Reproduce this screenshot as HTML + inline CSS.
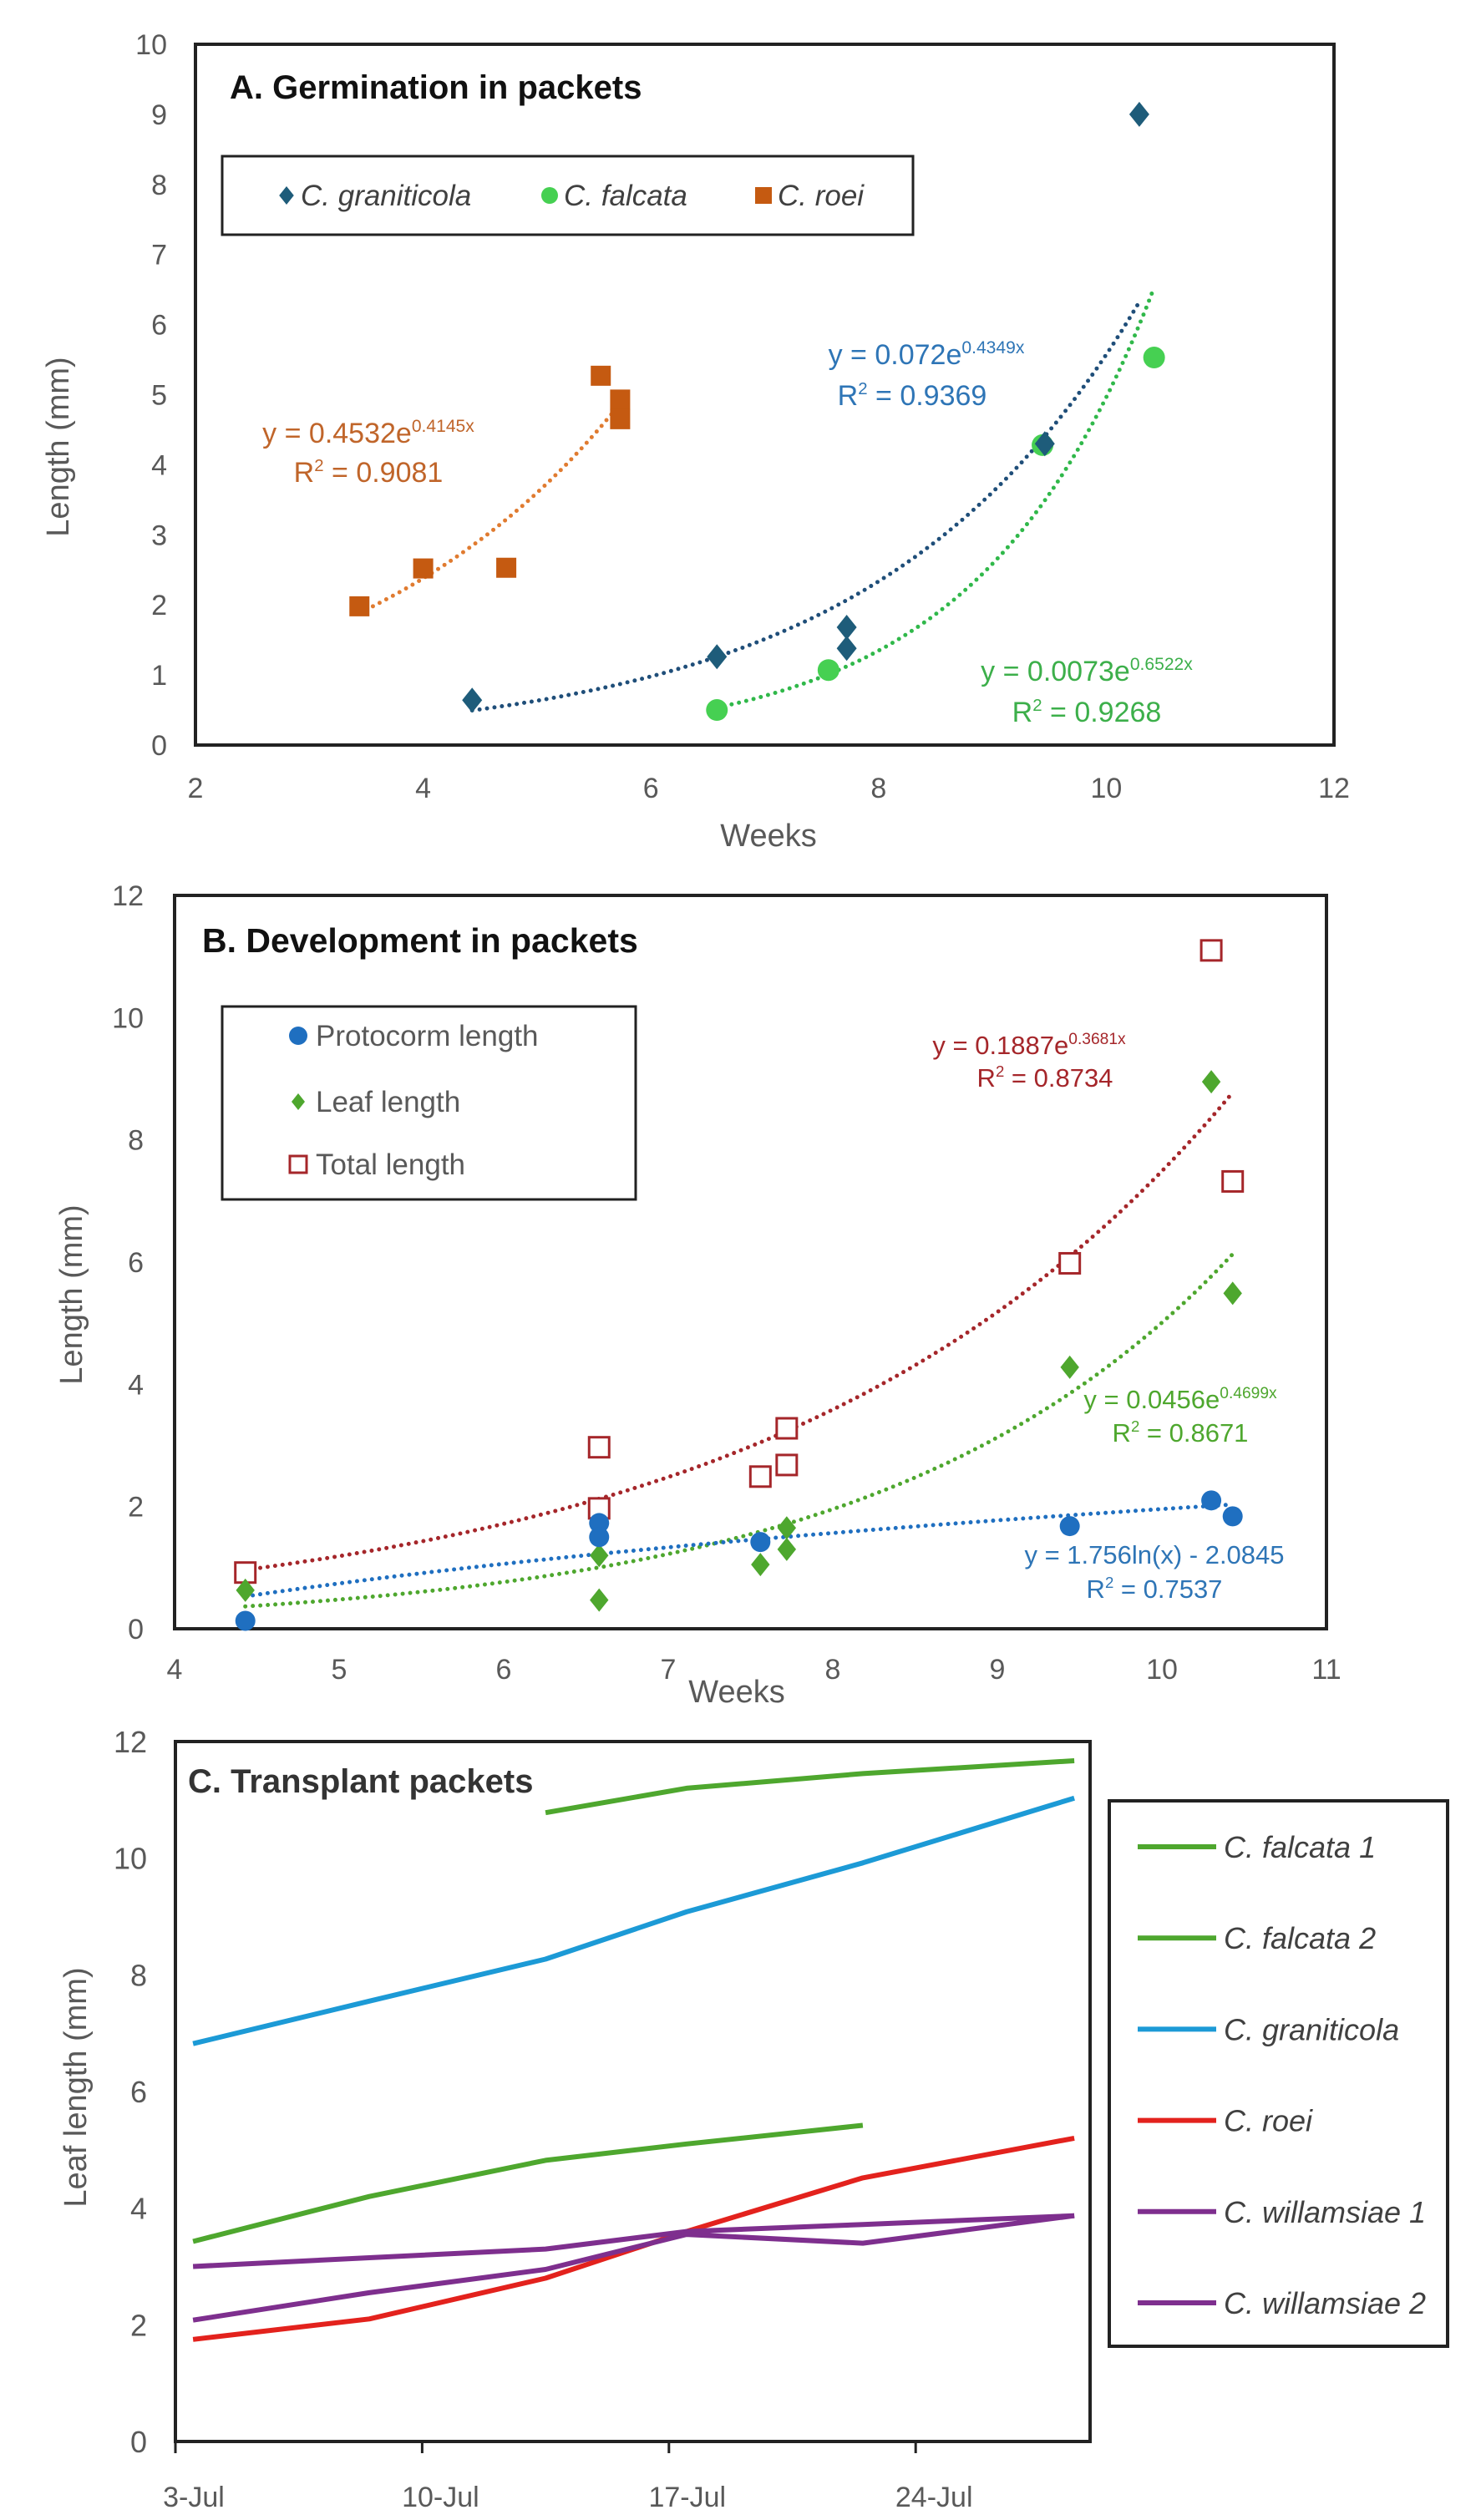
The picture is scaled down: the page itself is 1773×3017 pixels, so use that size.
<!DOCTYPE html>
<html><head><meta charset="utf-8"><style>
html,body{margin:0;padding:0;background:#fff}
svg{display:block;font-family:"Liberation Sans",sans-serif}
</style></head><body>
<svg id="s" width="1773" height="3017" viewBox="0 0 1773 3017" xmlns="http://www.w3.org/2000/svg"></svg>
<script>
// ---------- Panel A data ----------
const aGranX=[4.43,6.58,7.72,7.72,9.46,10.29];
const aGranY=[0.64,1.26,1.68,1.38,4.3,9.0];
const aFalcX=[6.58,7.56,9.44,10.42];
const aFalcY=[0.5,1.07,4.28,5.53];
const aRoeiX=[3.44,4.0,4.73,5.56,5.73,5.73];
const aRoeiY=[1.98,2.52,2.53,5.27,4.93,4.65];
const aXTicks=[2,4,6,8,10,12];
const aYTicks=[0,1,2,3,4,5,6,7,8,9,10];
// ---------- Panel B data ----------
const bProtoX=[4.43,6.58,6.58,7.56,9.44,10.3,10.43];
const bProtoY=[0.13,1.73,1.5,1.42,1.68,2.1,1.84];
const bLeafX=[4.43,6.58,6.58,7.56,7.72,7.72,9.44,10.3,10.43];
const bLeafY=[0.63,1.2,0.47,1.05,1.65,1.3,4.28,8.95,5.49];
const bTotX=[4.43,6.58,6.58,7.56,7.72,7.72,9.44,10.3,10.43];
const bTotY=[0.92,2.97,1.97,2.49,3.28,2.68,5.98,11.1,7.32];
const bXTicks=[4,5,6,7,8,9,10,11];
const bYTicks=[0,2,4,6,8,10,12];
// ---------- Panel C data ----------
const cDays=[3,8,13,17,22,28];
const cFalc1=[null,null,10.78,11.2,11.45,11.67];
const cFalc2=[3.43,4.2,4.82,5.1,5.42,null];
const cGran=[6.82,7.55,8.27,9.08,9.92,11.03];
const cRoei=[1.75,2.1,2.8,3.6,4.52,5.2];
const cWill1=[3.0,3.15,3.3,3.6,3.72,3.87];
const cWill2=[2.08,2.55,2.95,3.55,3.4,3.87];
const cXTickDays=[3,10,17,24];
const cXTickLabels=["3-Jul","10-Jul","17-Jul","24-Jul"];
const cYTicks=[0,2,4,6,8,10,12];

const NS="http://www.w3.org/2000/svg";
const svg=document.getElementById('s');
function el(tag,attrs,parent,text){const e=document.createElementNS(NS,tag);for(const k in attrs)e.setAttribute(k,attrs[k]);if(text!==undefined)e.textContent=text;(parent||svg).appendChild(e);return e;}
function grp(name){const g=el('g',{});return g;}

function marker(g,type,cx,cy,size,color){
  let m;
  if(type==='diamond'){const h=size/2;m=el('polygon',{points:`${cx},${cy-h} ${cx+h*0.8},${cy} ${cx},${cy+h} ${cx-h*0.8},${cy}`,fill:color},g);}
  else if(type==='circle'){m=el('circle',{cx:cx,cy:cy,r:size/2,fill:color},g);}
  else if(type==='square'){m=el('rect',{x:cx-size/2,y:cy-size/2,width:size,height:size,fill:color},g);}
  else {m=el('rect',{x:cx-size/2,y:cy-size/2,width:size,height:size,fill:'#fff',stroke:color,'stroke-width':3},g);}
  return m;
}
function trend(g,fn,x0,x1,sx,sy,color){
  let d='';const n=80;
  for(let i=0;i<=n;i++){const x=x0+(x1-x0)*i/n;d+=(i?'L':'M')+sx(x).toFixed(1)+','+sy(fn(x)).toFixed(1);}
  return el('path',{d:d,fill:'none',stroke:color,'stroke-width':5,'stroke-dasharray':'0 9','stroke-linecap':'round'},g);
}
function eq(g,x,y,main,sup,color,fs,name){
  const t=el('text',{x:x,y:y,fill:color,'font-size':fs,'text-anchor':'middle'},g);
  
  el('tspan',{},t,main);
  if(sup){el('tspan',{'font-size':fs*0.62,dy:-fs*0.38},t,sup);}
  return t;
}
function r2(g,x,y,val,color,fs,name){
  const t=el('text',{x:x,y:y,fill:color,'font-size':fs,'text-anchor':'middle'},g);
  
  el('tspan',{},t,'R');el('tspan',{'font-size':fs*0.6,dy:-fs*0.38},t,'2');el('tspan',{dy:fs*0.38},t,' = '+val);
  return t;
}

// ================= Panel A =================
(function(){
  const L=234,R=1597,T=53,B=892;
  const sx=x=>L+(x-2)/10*(R-L), sy=y=>B-y/10*(B-T);
  const g=grp('panel-a-germination');
  const box=el('rect',{x:L,y:T,width:R-L,height:B-T,fill:'none',stroke:'#222','stroke-width':4},g);
  
  aYTicks.forEach(v=>{const t=el('text',{x:200,y:sy(v)+12,'font-size':34,fill:'#595959','text-anchor':'end'},g,String(v));});
  aXTicks.forEach(v=>{const t=el('text',{x:sx(v),y:955,'font-size':34,fill:'#595959','text-anchor':'middle'},g,String(v));});
  const yt=el('text',{x:0,y:0,'font-size':38,fill:'#595959','text-anchor':'middle',transform:'translate(82,535) rotate(-90)'},g,'Length (mm)');
  
  const xt=el('text',{x:920,y:1013,'font-size':38,fill:'#595959','text-anchor':'middle'},g,'Weeks');
  
  const ti=el('text',{x:275,y:118,'font-size':40,'font-weight':'bold',fill:'#111'},g,'A. Germination in packets');
  
  const tr1=trend(g,x=>0.4532*Math.exp(0.4145*x),3.44,5.73,sx,sy,'#E07B30');
  const tr2=trend(g,x=>0.072*Math.exp(0.4349*x),4.43,10.29,sx,sy,'#1F4E79');
  const tr3=trend(g,x=>0.0073*Math.exp(0.6522*x),6.58,10.42,sx,sy,'#30B84A');
  aRoeiX.forEach((x,i)=>{const m=marker(g,'square',sx(x),sy(aRoeiY[i]),24,'#C55A11');});
  aFalcX.forEach((x,i)=>{const m=marker(g,'circle',sx(x),sy(aFalcY[i]),26,'#46D052');});
  aGranX.forEach((x,i)=>{const m=marker(g,'diamond',sx(x),sy(aGranY[i]),30,'#1E5C7A');});
  eq(g,441,530,'y = 0.4532e','0.4145x','#C0652A',34,'equation-roei');
  r2(g,441,577,'0.9081','#C0652A',34,'r2-roei');
  eq(g,1109,436,'y = 0.072e','0.4349x','#2E75B6',34,'equation-graniticola');
  r2(g,1092,485,'0.9369','#2E75B6',34,'r2-graniticola');
  eq(g,1301,815,'y = 0.0073e','0.6522x','#3CAF4A',34,'equation-falcata');
  r2(g,1301,864,'0.9268','#3CAF4A',34,'r2-falcata');
  const lg=el('g',{},g);
  el('rect',{x:266,y:187,width:827,height:94,fill:'#fff',stroke:'#222','stroke-width':3},lg);
  const ents=[['diamond','#1E5C7A',343,'C. graniticola'],['circle','#46D052',658,'C. falcata'],['square','#C55A11',914,'C. roei']];
  ents.forEach(e=>{const eg=el('g',{},lg);
    marker(eg,e[0],e[2],234,e[0]==='diamond'?22:20,e[1]);
    el('text',{x:e[2]+17,y:246,'font-size':35,'font-style':'italic',fill:'#404040'},eg,e[3]);});
})();

// ================= Panel B =================
(function(){
  const L=209,R=1588,T=1072,B=1950;
  const sx=x=>L+(x-4)/7*(R-L), sy=y=>B-y/12*(B-T);
  const g=grp('panel-b-development');
  const box=el('rect',{x:L,y:T,width:R-L,height:B-T,fill:'none',stroke:'#222','stroke-width':4},g);
  
  bYTicks.forEach(v=>{const t=el('text',{x:172,y:sy(v)+12,'font-size':34,fill:'#595959','text-anchor':'end'},g,String(v));});
  bXTicks.forEach(v=>{const t=el('text',{x:sx(v),y:2010,'font-size':34,fill:'#595959','text-anchor':'middle'},g,String(v));});
  const yt=el('text',{x:0,y:0,'font-size':38,fill:'#595959','text-anchor':'middle',transform:'translate(98,1550) rotate(-90)'},g,'Length (mm)');
  
  const xt=el('text',{x:882,y:2038,'font-size':38,fill:'#595959','text-anchor':'middle'},g,'Weeks');
  
  const ti=el('text',{x:242,y:1140,'font-size':41,'font-weight':'bold',fill:'#111'},g,'B. Development in packets');
  
  const t1=trend(g,x=>0.1887*Math.exp(0.3681*x),4.43,10.43,sx,sy,'#A5262A');
  const t2=trend(g,x=>0.0456*Math.exp(0.4699*x),4.43,10.43,sx,sy,'#4EA72E');
  const t3=trend(g,x=>1.756*Math.log(x)-2.0845,4.43,10.43,sx,sy,'#1F6FC0');
  bTotX.forEach((x,i)=>{const m=marker(g,'open',sx(x),sy(bTotY[i]),24,'#A5262A');});
  bLeafX.forEach((x,i)=>{const m=marker(g,'diamond',sx(x),sy(bLeafY[i]),28,'#4EA72E');});
  bProtoX.forEach((x,i)=>{const m=marker(g,'circle',sx(x),sy(bProtoY[i]),24,'#1F6FC0');});
  eq(g,1232,1262,'y = 0.1887e','0.3681x','#A5262A',31,'equation-total');
  r2(g,1251,1301,'0.8734','#A5262A',31,'r2-total');
  eq(g,1413,1686,'y = 0.0456e','0.4699x','#4EA72E',31,'equation-leaf');
  r2(g,1413,1726,'0.8671','#4EA72E',31,'r2-leaf');
  eq(g,1382,1872,'y = 1.756ln(x) - 2.0845','','#2E75B6',31,'equation-protocorm');
  r2(g,1382,1913,'0.7537','#2E75B6',31,'r2-protocorm');
  const lg=el('g',{},g);
  el('rect',{x:266,y:1205,width:495,height:231,fill:'#fff',stroke:'#222','stroke-width':3},lg);
  [['circle','#1F6FC0',1240,'Protocorm length'],['diamond','#4EA72E',1319,'Leaf length'],['open','#A5262A',1394,'Total length']].forEach(e=>{
    const eg=el('g',{},lg);
    marker(eg,e[0],357,e[2],e[0]==='diamond'?20:e[0]==='open'?20:22,e[1]);
    el('text',{x:378,y:e[2]+12,'font-size':35,fill:'#595959'},eg,e[3]);});
})();

// ================= Panel C =================
(function(){
  const L=210,R=1305,T=2085,B=2923;
  const dayW=42.2;
  const sx=d=>L+(d-3+0.5)*dayW, sxTick=d=>L+(d-3)*dayW, sy=y=>B-y/12*(B-T);
  const g=grp('panel-c-transplant');
  const box=el('rect',{x:L,y:T,width:R-L,height:B-T,fill:'none',stroke:'#222','stroke-width':4},g);
  
  cXTickDays.forEach((d,i)=>{
    el('line',{x1:sxTick(d),y1:B,x2:sxTick(d),y2:B+14,stroke:'#222','stroke-width':3},g);
    const t=el('text',{x:sxTick(d)+22,y:3001,'font-size':34,fill:'#595959','text-anchor':'middle'},g,cXTickLabels[i]);
    });
  cYTicks.forEach(v=>{const t=el('text',{x:176,y:sy(v)+13,'font-size':36,fill:'#595959','text-anchor':'end'},g,String(v));});
  const yt=el('text',{x:0,y:0,'font-size':38,fill:'#595959','text-anchor':'middle',transform:'translate(103,2499) rotate(-90)'},g,'Leaf length (mm)');
  
  const ti=el('text',{x:225,y:2146,'font-size':40,'font-weight':'bold',fill:'#333'},g,'C. Transplant packets');
  
  const series=[[cFalc1,'#4EA72E','line-falcata-1','C. falcata 1'],[cFalc2,'#4EA72E','line-falcata-2','C. falcata 2'],[cGran,'#1C9AD6','line-graniticola','C. graniticola'],[cRoei,'#E3221D','line-roei','C. roei'],[cWill1,'#7E2F8E','line-willamsiae-1','C. willamsiae 1'],[cWill2,'#7E2F8E','line-willamsiae-2','C. willamsiae 2']];
  series.forEach(s=>{
    let d='',first=true;
    cDays.forEach((day,i)=>{const v=s[0][i];if(v===null)return;d+=(first?'M':'L')+sx(day).toFixed(1)+','+sy(v).toFixed(1);first=false;});
    const p=el('path',{d:d,fill:'none',stroke:s[1],'stroke-width':6,'stroke-linejoin':'round'},g);
    
  });
  const lg=el('g',{},g);
  el('rect',{x:1328,y:2156,width:405,height:653,fill:'#fff',stroke:'#222','stroke-width':4},lg);
  series.forEach((s,i)=>{const y=2211+i*109.2;
    const eg=el('g',{},lg);
    el('line',{x1:1362,y1:y,x2:1456,y2:y,stroke:s[1],'stroke-width':6},eg);
    el('text',{x:1465,y:y+13,'font-size':36,'font-style':'italic',fill:'#404040'},eg,s[3]);});
})();
</script>
</body></html>
